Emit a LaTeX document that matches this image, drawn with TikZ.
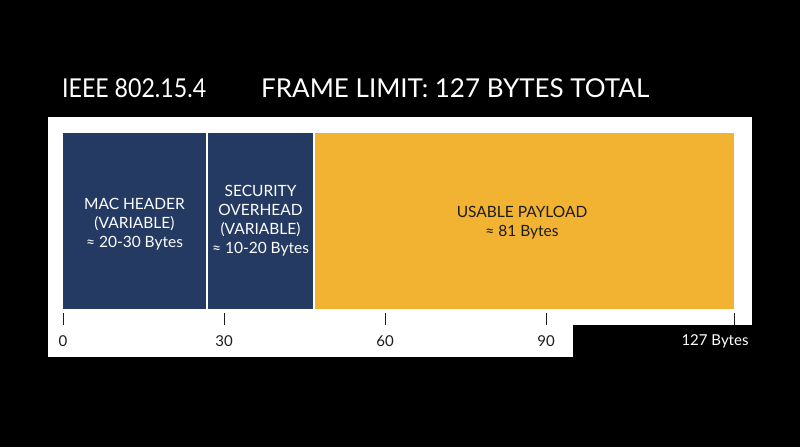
\documentclass[tikz,border=0pt]{standalone}
\usepackage{fontspec}
\setmainfont{Lato}
\definecolor{navy}{HTML}{243A63}
\definecolor{gold}{HTML}{F2B232}
\definecolor{ink}{HTML}{1C1C1C}
\tikzset{
  bartext/.style={font=\fontsize{15.5}{19}\selectfont, align=center},
  tick/.style={draw=ink, line width=0.9pt},
  ticklab/.style={font=\fontsize{15}{18}\selectfont, text=ink, anchor=center},
  title/.style={font=\fontsize{26}{30}\selectfont, text=white, anchor=base west, inner sep=0pt}
}
\begin{document}
\begin{tikzpicture}[x=1pt,y=-1pt]
\useasboundingbox (0,0) rectangle (800,447);
\fill[black] (0,0) rectangle (800,447);
% white panel
\fill[white] (48,117) rectangle (752,357);
% segments
\fill[navy] (63,133) rectangle (206,309);
\fill[navy] (208,133) rectangle (313,309);
\fill[gold] (315,133) rectangle (734,309);
\node[bartext, text=white] (mac) at (134.5,224) {MAC HEADER\\(VARIABLE)\\≈ 20-30 Bytes};
\node[bartext, text=white] (sec) at (260.5,221) {SECURITY\\OVERHEAD\\(VARIABLE)\\≈ 10-20 Bytes};
\node[bartext, text=ink] (pay) at (522,223) {USABLE PAYLOAD\\≈ 81 Bytes};
% black corner block
\fill[black] (573,325) rectangle (800,447);
% ticks
\draw[tick] (63,313) -- (63,325);
\draw[tick] (224,313) -- (224,325);
\draw[tick] (385,313) -- (385,325);
\draw[tick] (546,313) -- (546,325);
\draw[tick] (734,313) -- (734,325);
\node[ticklab] (l0) at (63,341) {0};
\node[ticklab] (l30) at (224,341) {30};
\node[ticklab] (l60) at (385,341) {60};
\node[ticklab] (l90) at (546,341) {90};
\node[ticklab, text=white, anchor=east] (l127) at (752,341) {127 Bytes};
% titles
\node[title] (t1) at (62,97) {\scalebox{0.89}[1]{IEEE 802.15.4}};
\node[title] (t2) at (261,97) {FRAME LIMIT: 127 BYTES TOTAL};
\end{tikzpicture}
\end{document}
